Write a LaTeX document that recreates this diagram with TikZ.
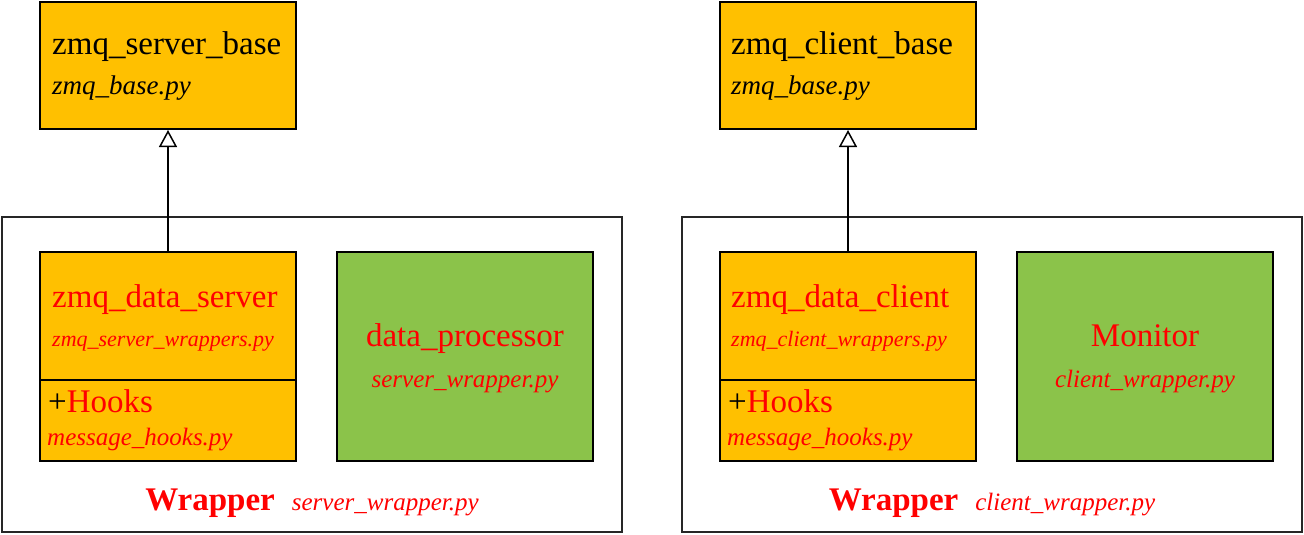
\documentclass[tikz,border=0pt]{standalone}
\usepackage{fontspec}
\setmainfont{Liberation Serif}
\usetikzlibrary{arrows.meta,positioning}
\definecolor{boxorange}{HTML}{FFC000}
\definecolor{boxgreen}{HTML}{8BC34A}
\tikzset{
  classbox/.style={draw,line width=2pt,fill=boxorange,minimum width=256pt,inner sep=0pt},
  procbox/.style={draw,line width=2pt,fill=boxgreen,minimum width=256pt,minimum height=209pt,inner sep=0pt},
  wrapbox/.style={draw=black!85,line width=1.5pt,minimum width=620pt,minimum height=315pt,inner sep=0pt},
  bigtxt/.style={anchor=base west,inner sep=0pt,font=\fontsize{33}{33}\selectfont},
  filetxt/.style={anchor=base west,inner sep=0pt,font=\fontsize{25}{25}\selectfont\itshape},
  inherits/.style={-{Triangle[open,width=18pt,length=17pt]},line width=1.5pt}
}
\begin{document}
\begin{tikzpicture}[x=1pt,y=-1pt]
\useasboundingbox (0,0) rectangle (1304,535);
% server side
\node[wrapbox] (srvwrap) at (312,374.5) {};
\node[classbox,minimum height=127pt] (srvbase) at (168,65.5) {};
\node[classbox,minimum height=128pt] (srvdata) at (168,316) {};
\node[classbox,minimum height=81pt,below=-2pt of srvdata] (srvhooks) {};
\node[procbox] (proc) at (465,356.5) {};
\draw[inherits] (srvdata.north) -- (srvbase.south);
\node[bigtxt] (srvbasename) at (52,55) {zmq\_server\_base};
\node[filetxt,font=\fontsize{27}{27}\selectfont\itshape] (srvbasefile) at (52,94) {zmq\_base.py};
\node[bigtxt,text=red] (srvdataname) at (52,307) {zmq\_data\_server};
\node[filetxt,text=red,font=\fontsize{22}{22}\selectfont\itshape] (srvdatafile) at (52,346) {zmq\_server\_wrappers.py};
\node[bigtxt] (srvhooksname) at (48,412) {+\textcolor{red}{Hooks}};
\node[filetxt,text=red] (srvhooksfile) at (47,445) {message\_hooks.py};
\node[bigtxt,anchor=base,text=red] (procname) at (465,346) {data\_processor};
\node[filetxt,anchor=base,text=red] (procfile) at (465,387) {server\_wrapper.py};
\node[bigtxt,anchor=base,text=red] (srvwraplabel) at (312,510)
  {\textbf{Wrapper}\hspace{17pt}{\fontsize{25}{25}\selectfont\itshape server\_wrapper.py}};
% client side
\node[wrapbox] (cliwrap) at (992,374.5) {};
\node[classbox,minimum height=127pt] (clibase) at (848,65.5) {};
\node[classbox,minimum height=128pt] (clidata) at (848,316) {};
\node[classbox,minimum height=81pt,below=-2pt of clidata] (clihooks) {};
\node[procbox] (monitor) at (1145,356.5) {};
\draw[inherits] (clidata.north) -- (clibase.south);
\node[bigtxt] (clibasename) at (731,55) {zmq\_client\_base};
\node[filetxt,font=\fontsize{27}{27}\selectfont\itshape] (clibasefile) at (731,94) {zmq\_base.py};
\node[bigtxt,text=red] (clidataname) at (731,307) {zmq\_data\_client};
\node[filetxt,text=red,font=\fontsize{22}{22}\selectfont\itshape] (clidatafile) at (731,346) {zmq\_client\_wrappers.py};
\node[bigtxt] (clihooksname) at (728,412) {+\textcolor{red}{Hooks}};
\node[filetxt,text=red] (clihooksfile) at (727,445) {message\_hooks.py};
\node[bigtxt,anchor=base,text=red] (monitorname) at (1145,346) {Monitor};
\node[filetxt,anchor=base,text=red] (monitorfile) at (1145,387) {client\_wrapper.py};
\node[bigtxt,anchor=base,text=red] (cliwraplabel) at (992,510)
  {\textbf{Wrapper}\hspace{17pt}{\fontsize{25}{25}\selectfont\itshape client\_wrapper.py}};
\end{tikzpicture}
\end{document}
